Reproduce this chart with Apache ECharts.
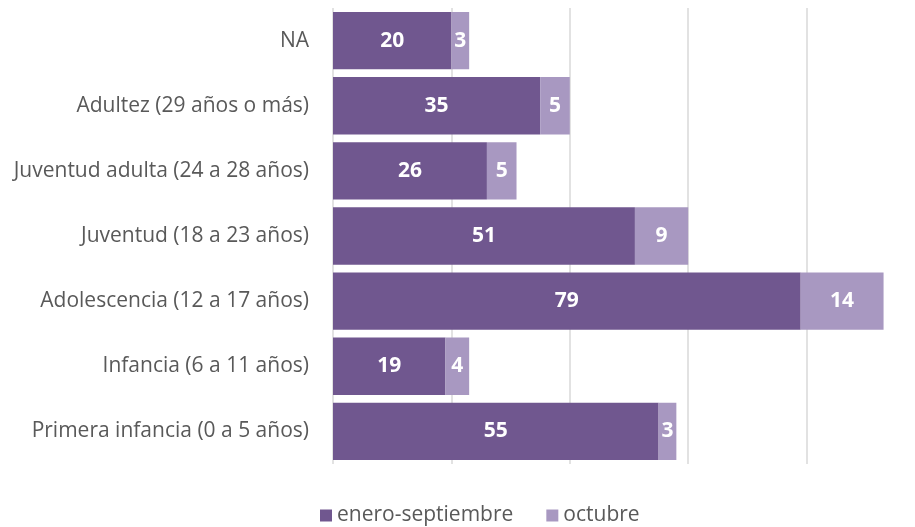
<!DOCTYPE html>
<html>
<head>
<meta charset="utf-8">
<script src="https://cdn.jsdelivr.net/npm/echarts@6/dist/echarts.min.js"></script>
<style>
  html, body { margin: 0; padding: 0; background: #fff; }
  #chart { width: 915px; height: 527px; }
</style>
</head>
<body>
<div id="chart"></div>
<script>
// bottom to top, as on the picture
const categories = [
  'Primera infancia (0 a 5 años)',
  'Infancia (6 a 11 años)',
  'Adolescencia (12 a 17 años)',
  'Juventud (18 a 23 años)',
  'Juventud adulta (24 a 28 años)',
  'Adultez (29 años o más)',
  'NA'
];
const eneroSeptiembre = [55, 19, 79, 51, 26, 35, 20];
const octubre = [3, 4, 14, 9, 5, 5, 3];

const font = '"Open Sans", Lato, sans-serif';

const chart = echarts.init(document.getElementById('chart'), null, { renderer: 'canvas' });

const valueLabel = {
  show: true,
  position: 'inside',
  color: '#ffffff',
  fontFamily: font,
  fontSize: 21,
  fontWeight: 'bold'
};

chart.setOption({
  animation: false,
  backgroundColor: '#ffffff',
  // 100 lies just past the right edge, as in the source
  grid: { left: 333, width: 592, top: 8, bottom: 63, outerBoundsMode: 'none' },
  legend: {
    top: 505,
    left: 320,
    padding: 0,
    itemWidth: 12,
    itemHeight: 12,
    itemGap: 33,
    icon: 'rect',
    textStyle: { color: '#595959', fontFamily: font, fontSize: 21 },
    data: ['enero-septiembre', 'octubre']
  },
  xAxis: {
    type: 'value',
    min: 0,
    max: 100,
    interval: 20,
    axisLabel: { show: false },
    axisLine: { show: false },
    axisTick: { show: false },
    splitLine: { show: true, lineStyle: { color: '#d9d9d9', width: 1.5 } }
  },
  yAxis: {
    type: 'category',
    data: categories,
    axisLine: { show: false },
    axisTick: { show: false },
    axisLabel: { color: '#595959', fontFamily: font, fontSize: 21, margin: 24 }
  },
  series: [
    {
      name: 'enero-septiembre',
      type: 'bar',
      stack: 'total',
      barCategoryGap: '12%',
      itemStyle: { color: '#70578f' },
      label: valueLabel,
      data: eneroSeptiembre
    },
    {
      name: 'octubre',
      type: 'bar',
      stack: 'total',
      itemStyle: { color: '#a898c1' },
      label: valueLabel,
      data: octubre
    }
  ]
});
</script>
</body>
</html>
